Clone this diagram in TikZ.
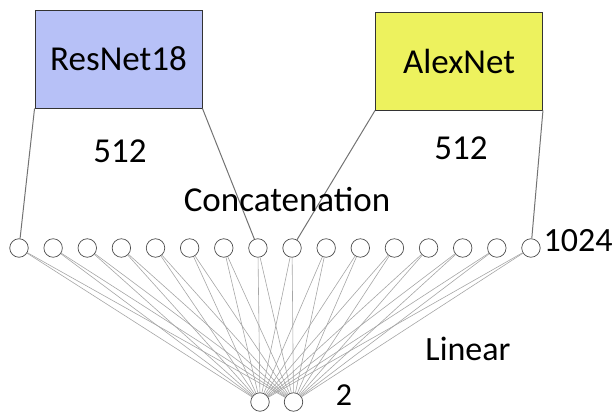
\documentclass[tikz,border=0pt]{standalone}
\usepackage{fontspec}
\setmainfont{Carlito}
\definecolor{resblue}{RGB}{183,193,247}
\definecolor{alexyellow}{RGB}{237,242,94}
\begin{document}
\begin{tikzpicture}[x=1pt,y=-1pt,
    net/.style={draw=black!80,line width=0.9pt,minimum width=167pt,minimum height=98pt,inner sep=0pt,font=\fontsize{35}{40}\selectfont},
    unit/.style={circle,draw=black!70,fill=white,minimum size=18.5pt,inner sep=0pt,line width=0.7pt},
    lbl/.style={inner sep=0pt,font=\fontsize{35}{40}\selectfont},
    feed/.style={draw=black!55,line width=1pt},
    link/.style={draw=black!35,line width=0.6pt}]
  \useasboundingbox (0,0) rectangle (616,414);

  \node[net,fill=resblue] (resnet) at (118.5,59) {ResNet18};
  \node[net,fill=alexyellow] (alexnet) at (459,61) {AlexNet};

  % concatenated layer
  \foreach \i in {0,...,15}
    \node[unit] (c\i) at ({19 + 34.13*\i}, 248) {};
  \node[unit] (o1) at (260, 402) {};
  \node[unit] (o2) at (293.5, 402) {};

  \foreach \i in {0,...,15} {
    \draw[link] (c\i) -- (o1);
    \draw[link] (c\i) -- (o2);
  }

  \draw[feed] (resnet.south west) -- (c0);
  \draw[feed] (resnet.south east) -- (c7);
  \draw[feed] (alexnet.south west) -- (c8);
  \draw[feed] (alexnet.south east) -- (c15);

  \node[lbl] (reswidth) at (120,151) {512};
  \node[lbl] (alexwidth) at (461,148) {512};
  \node[lbl] (concat) at (287,200) {Concatenation};
  \node[lbl,font=\fontsize{34}{40}\selectfont] (catwidth) at (578,241) {1024};
  \node[lbl,font=\fontsize{34}{40}\selectfont] (linear) at (468,349) {Linear};
  \node[lbl,font=\fontsize{32}{38}\selectfont] (outwidth) at (344,395) {2};
\end{tikzpicture}
\end{document}
